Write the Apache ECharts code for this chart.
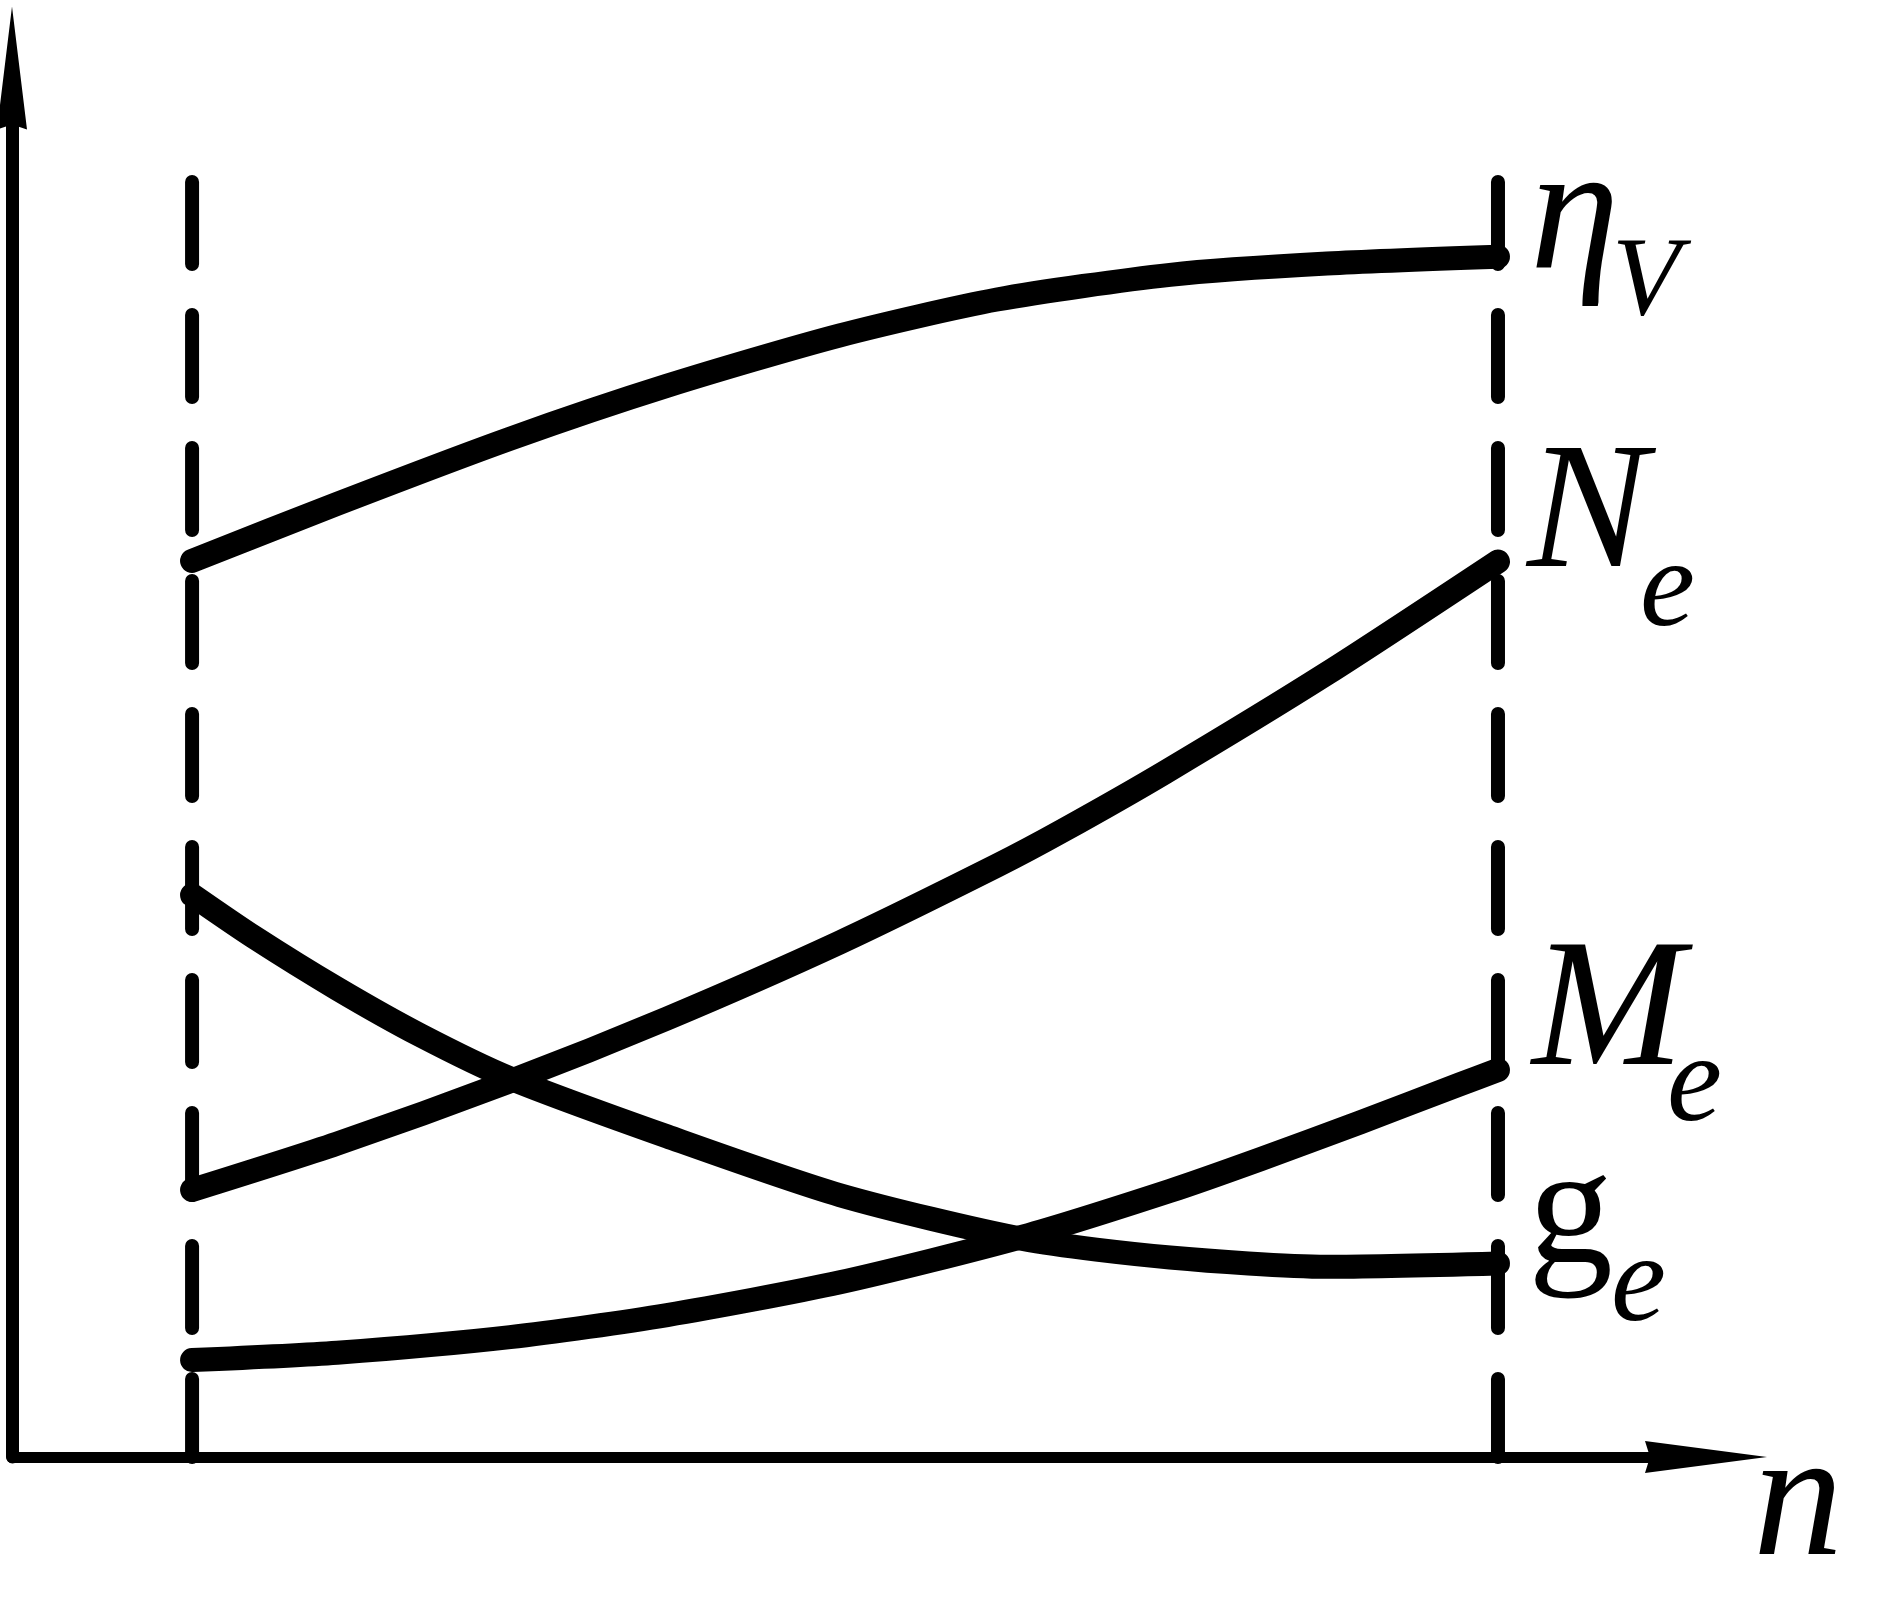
<!DOCTYPE html>
<html>
<head>
<meta charset="utf-8">
<script src="https://cdn.jsdelivr.net/npm/echarts@6/dist/echarts.min.js"></script>
<style>
html,body{margin:0;padding:0;background:#fff;}
#c{width:1890px;height:1609px;}
.fp{position:absolute;left:-9999px;top:0;font-family:"Liberation Serif";}
</style>
</head>
<body>
<span class="fp" style="font-style:italic">ηNMgenV</span><span class="fp">g</span>
<div id="c"></div>
<script>
// speed range bounds (dashed guides) and axis extents
const nMin = 10.63, nMax = 87.72, guideTop = 91.79;
const nAxisMax = 100, yAxisMax = 100;
// curves: [n, value]
const etaV = [[10.63,64.51],[19.19,68.62],[29.40,73.31],[38.67,77.12],[48.88,80.75],[58.15,83.33],[68.36,85.11],[77.63,85.92],[87.72,86.41]];
const Ne   = [[10.63,19.22],[19.19,22.56],[29.40,27.05],[38.67,31.57],[48.88,37.05],[58.15,42.58],[62.04,45.10],[68.06,49.29],[77.63,56.41],[87.72,64.47]];
const ge   = [[10.63,40.46],[14.23,37.47],[19.19,33.72],[24.09,30.37],[29.40,27.26],[38.67,23.08],[48.88,18.85],[59.68,15.69],[68.36,14.36],[77.63,13.69],[87.72,13.93]];
const Me   = [[10.63,6.98],[19.19,7.51],[29.40,8.63],[38.67,10.22],[48.88,12.58],[59.68,15.87],[68.36,19.16],[73.67,21.43],[79.57,24.09],[85.48,26.83],[87.72,27.86]];
const labels = [
  {main:'η', sub:'V', series: etaV},
  {main:'N', sub:'e', series: Ne},
  {main:'M', sub:'e', series: Me},
  {main:'g', sub:'e', series: ge}
];
const xLabel = 'n';

const chart = echarts.init(document.getElementById('c'), null, {renderer:'canvas'});
const arrowY = 'path://M15,0 L30,123 L15,118 L0,123 Z';
const arrowX = 'path://M16,0 L32,122 L16,117 L0,122 Z';
const curveStyle = {color:'#000', width:24, cap:'round', join:'round'};
const guideStyle = {color:'#000', width:14, type:[82,51], cap:'round'};

function curve(data){
  return {type:'line', data:data, smooth:0.25, showSymbol:false, symbol:'none', lineStyle:curveStyle, z:3, silent:true, animation:false};
}
function guide(n){
  return {type:'line', data:[[n,guideTop],[n,0]], showSymbol:false, symbol:'none', lineStyle:guideStyle, z:2, silent:true, animation:false};
}

chart.setOption({
  animation:false,
  backgroundColor:'#fff',
  grid:{left:12, right:184, top:68, bottom:152},
  xAxis:{type:'value', min:0, max:nAxisMax,
    axisLine:{show:true, symbol:['none', arrowX], symbolSize:[32,122], lineStyle:{color:'#000', width:11}},
    axisTick:{show:false}, axisLabel:{show:false}, splitLine:{show:false}},
  yAxis:{type:'value', min:0, max:yAxisMax,
    axisLine:{show:true, symbol:['none', arrowY], symbolSize:[30,123], lineStyle:{color:'#000', width:13}},
    axisTick:{show:false}, axisLabel:{show:false}, splitLine:{show:false}},
  series:[guide(nMin), guide(nMax), curve(etaV), curve(Ne), curve(ge), curve(Me)]
});

// label offsets from each curve's end point (px)
const offs = {
  'η': {mx:32, my:18, sx:114, sy:61, ms:180, ss:112, st:'italic'},
  'N': {mx:29, my:11, sx:142, sy:68, ms:181, ss:124, st:'italic'},
  'M': {mx:34, my:1,  sx:169, sy:55, ms:183, ss:124, st:'italic'},
  'g': {mx:30, my:5,  sx:113, sy:61, ms:170, ss:124, st:'normal'}
};
function txt(s, x, baseline, size, st){
  return {type:'text', z:10, silent:true, style:{text:s, x:x, y:baseline - 0.30*size,
    font:st + ' ' + size + 'px "Liberation Serif"', fill:'#000', align:'left', verticalAlign:'middle'}};
}
function drawLabels(){
  const g = [];
  labels.forEach(function(l){
    const end = l.series[l.series.length-1];
    const p = chart.convertToPixel({gridIndex:0}, end);
    const o = offs[l.main];
    g.push(txt(l.main, p[0] + o.mx, p[1] + o.my, o.ms, o.st));
    g.push(txt(l.sub, p[0] + o.sx, p[1] + o.sy, o.ss, 'italic'));
  });
  const ax = chart.convertToPixel({gridIndex:0}, [nAxisMax, 0]);
  g.push(txt(xLabel, ax[0] + 47, ax[1] + 104, 180, 'italic'));
  chart.setOption({graphic:g}, {replaceMerge:['graphic']});
}
drawLabels();
if (document.fonts && document.fonts.load) {
  Promise.all([
    document.fonts.load('italic 180px "Liberation Serif"'),
    document.fonts.load('180px "Liberation Serif"')
  ]).then(function(){ drawLabels(); chart.getZr().refreshImmediately(); }).catch(function(){});
  document.fonts.ready.then(function(){ drawLabels(); chart.getZr().refreshImmediately(); });
}
</script>
</body>
</html>
